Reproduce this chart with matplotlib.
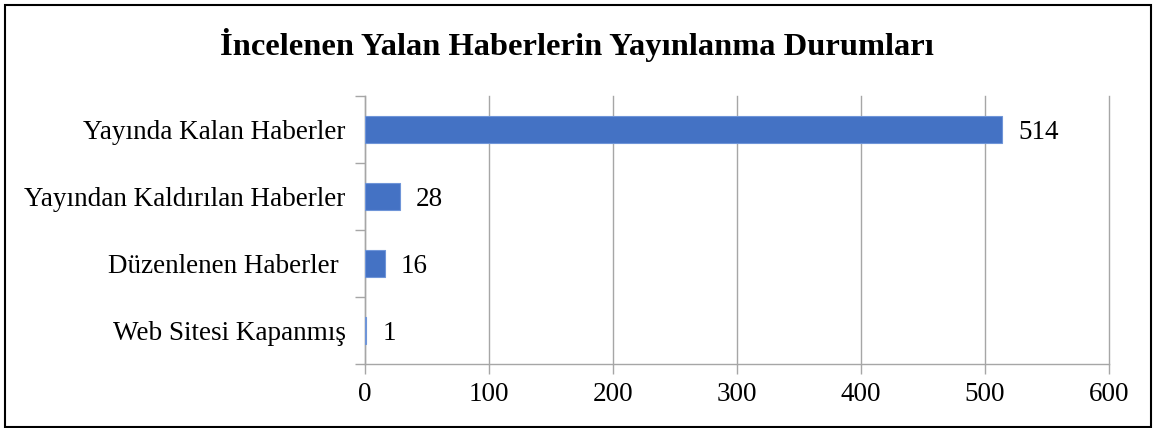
import matplotlib
matplotlib.use("Agg")
import matplotlib.pyplot as plt
from matplotlib.patches import Rectangle

plt.rcParams['font.family'] = ['Liberation Serif', 'DejaVu Serif']

# Data
categories = ['Yayında Kalan Haberler', 'Yayından Kaldırılan Haberler',
              'Düzenlenen Haberler ', 'Web Sitesi Kapanmış']
values = [514, 28, 16, 1]
xticks = [0, 100, 200, 300, 400, 500, 600]

bar_color = '#4472C4'
grid_color = '#A6A6A6'

fig = plt.figure(figsize=(11.53, 4.28), dpi=100)
ax = fig.add_axes([0.3166, 0.1495, 0.6452, 0.6262])

ypos = list(range(len(categories)))[::-1]
ax.barh(ypos, values, height=0.4, color=bar_color, edgecolor='#6F95D8',
        linewidth=0.8, zorder=3)

for y, v in zip(ypos, values):
    ax.text(v + 13, y, str(v), va='center_baseline', ha='left', fontsize=19.5)

ax.set_xlim(0, 600)
ax.set_ylim(-0.5, len(categories) - 0.5)
ax.set_xticks(xticks)
ax.set_xticklabels([str(t) for t in xticks], fontsize=19.5)
ax.set_yticks([i - 0.5 for i in range(len(categories) + 1)])
ax.set_yticklabels([])
ax.set_yticks(ypos, minor=True)
ax.set_yticklabels(categories, minor=True, fontsize=19.5)
ax.tick_params(axis='y', which='minor', length=0, pad=14)
ax.tick_params(axis='y', which='major', length=7, color=grid_color, width=1)
ax.tick_params(axis='x', length=7, color=grid_color, width=1, pad=6)

ax.grid(axis='x', color=grid_color, linewidth=1, zorder=0)
for line in ax.get_xgridlines():
    line.set_clip_on(False)
for s in ['top', 'right']:
    ax.spines[s].set_visible(False)
for s in ['left', 'bottom']:
    ax.spines[s].set_color(grid_color)
    ax.spines[s].set_linewidth(1)

fig.text(0.5, 0.895, 'İncelenen Yalan Haberlerin Yayınlanma Durumları',
         ha='center', va='center', fontsize=23.4, fontweight='bold')

fig.patches.append(Rectangle((5 / 1153, 1 / 428), 1146 / 1153, 422 / 428,
                             transform=fig.transFigure, fill=False,
                             edgecolor='black', linewidth=1.5))

fig.savefig('out.png', dpi=100)
